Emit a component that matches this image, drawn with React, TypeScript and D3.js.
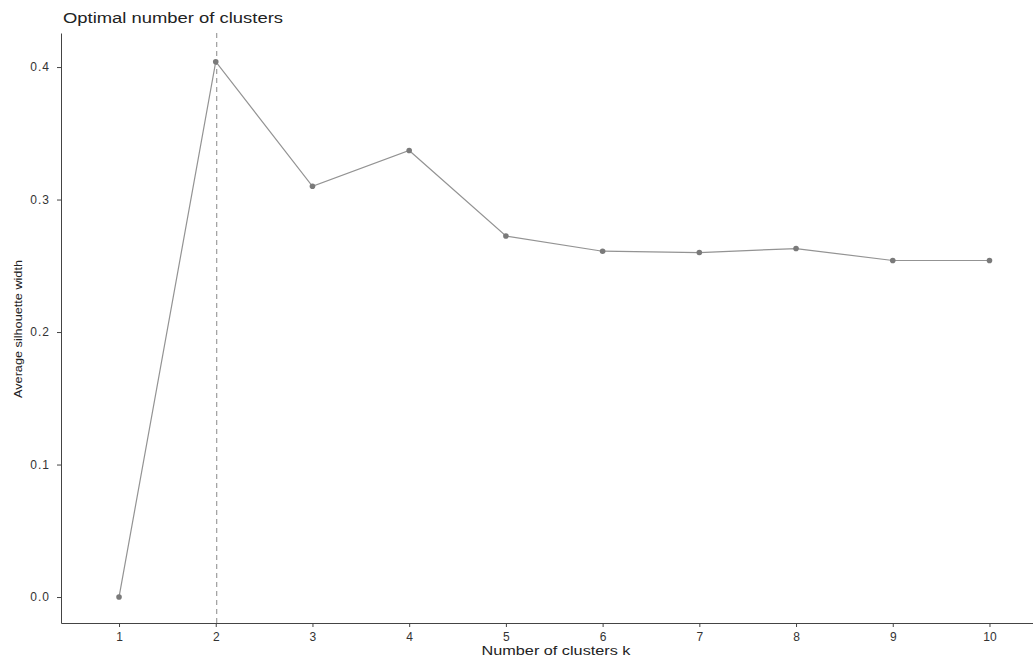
import { useEffect, useRef } from "react";
import * as d3 from "d3";

const clusters = [1, 2, 3, 4, 5, 6, 7, 8, 9, 10];
const silhouette = [0.0, 0.404, 0.31, 0.337, 0.2725, 0.261, 0.26, 0.263, 0.254, 0.254];
const yTicks = [0.0, 0.1, 0.2, 0.3, 0.4];
const optimalK = 2;

function App() {
    const width = 1033, height = 657;
    const margin = { top: 33, right: 0, bottom: 34, left: 61 };
    const svgRef = useRef<SVGSVGElement>(null);

    useEffect(() => {
        const svg = d3.select(svgRef.current).attr("width", width).attr("height", height);
        svg.selectAll("*").remove();

        const x = d3.scaleLinear()
            .domain([0.4, 10.45])
            .range([margin.left, width - margin.right]);

        const y = d3.scaleLinear()
            .domain([-0.0196, 0.4257])
            .range([height - margin.bottom, margin.top]);

        const font = "'Liberation Sans', Arial, sans-serif";

        // title
        svg.append("text")
            .attr("x", 63)
            .attr("y", 23)
            .attr("font-family", font)
            .attr("font-size", 14)
            .attr("fill", "#222")
            .attr("textLength", 220)
            .attr("lengthAdjust", "spacingAndGlyphs")
            .text("Optimal number of clusters");

        // x axis
        const gx = svg.append("g")
            .attr("transform", `translate(0, ${height - margin.bottom})`)
            .call(d3.axisBottom(x).tickValues(clusters).tickFormat(d3.format("d")).tickSize(4).tickSizeOuter(0));
        gx.select(".domain").attr("stroke", "#444");
        gx.selectAll(".tick line").attr("stroke", "#444");
        gx.selectAll(".tick text")
            .attr("font-family", font)
            .attr("font-size", 12)
            .attr("fill", "#333")
            .attr("dy", "0.95em");

        // y axis
        const gy = svg.append("g")
            .attr("transform", `translate(${margin.left}, 0)`)
            .call(d3.axisLeft(y).tickValues(yTicks).tickFormat(d3.format(".1f")).tickSize(4).tickSizeOuter(0));
        gy.select(".domain").attr("stroke", "#444");
        gy.selectAll(".tick line").attr("stroke", "#444");
        gy.selectAll(".tick text")
            .attr("font-family", font)
            .attr("font-size", 12)
            .attr("fill", "#333")
            .attr("x", -11)
            .attr("letter-spacing", 1);

        // axis titles
        svg.append("text")
            .attr("x", 556)
            .attr("y", 655)
            .attr("text-anchor", "middle")
            .attr("font-family", font)
            .attr("font-size", 12)
            .attr("fill", "#222")
            .attr("textLength", 149)
            .attr("lengthAdjust", "spacingAndGlyphs")
            .text("Number of clusters k");

        svg.append("text")
            .attr("transform", `translate(22, 329) rotate(-90)`)
            .attr("text-anchor", "middle")
            .attr("font-family", font)
            .attr("font-size", 11)
            .attr("fill", "#222")
            .attr("textLength", 138)
            .attr("lengthAdjust", "spacingAndGlyphs")
            .text("Average silhouette width");

        // optimal k line
        svg.append("line")
            .attr("x1", x(optimalK) + 1)
            .attr("x2", x(optimalK) + 1)
            .attr("y1", margin.top)
            .attr("y2", height - margin.bottom)
            .attr("stroke", "#888")
            .attr("stroke-width", 1)
            .attr("stroke-dasharray", "5,4");

        const data = clusters.map((k, i) => ({ k, v: silhouette[i] }));

        const line = d3.line<{ k: number; v: number }>()
            .x(d => x(d.k))
            .y(d => y(d.v));

        svg.append("path")
            .datum(data)
            .attr("fill", "none")
            .attr("stroke", "#939393")
            .attr("stroke-width", 1.2)
            .attr("d", line);

        svg.selectAll(".pt")
            .data(data)
            .enter().append("circle")
            .attr("class", "pt")
            .attr("cx", d => x(d.k))
            .attr("cy", d => y(d.v))
            .attr("r", 2.8)
            .attr("fill", "#7a7a7a");
    }, []);

    return (
        <div style={{ position: "absolute", left: 0, top: 0 }}>
            <svg ref={svgRef}></svg>
        </div>
    );
}

export default App;
